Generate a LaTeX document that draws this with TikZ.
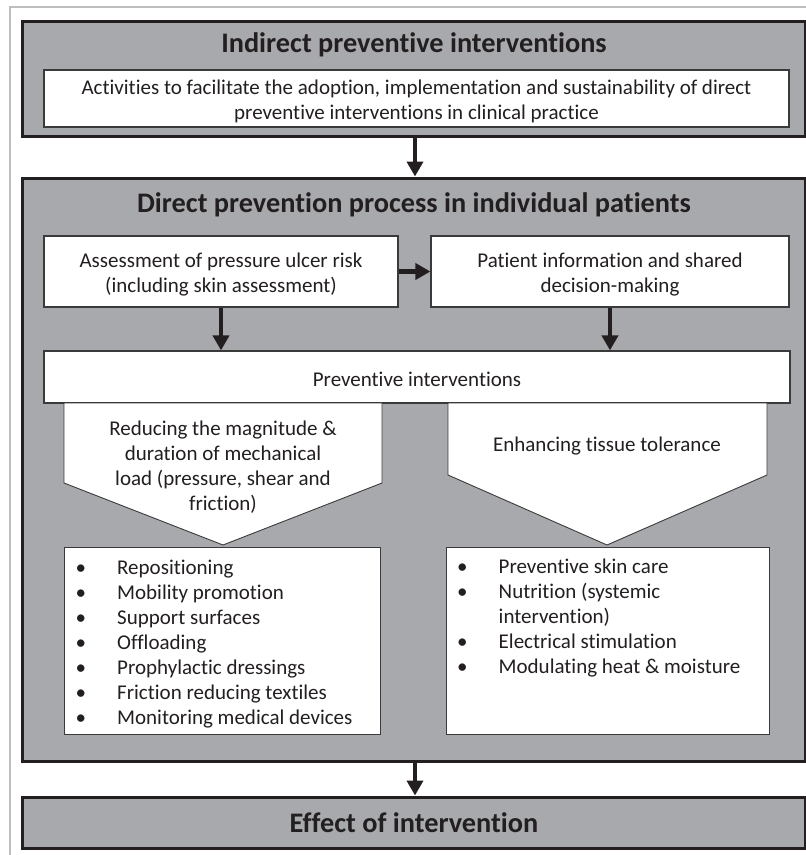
\documentclass[tikz,border=0pt]{standalone}
\usepackage{fontspec}
\setmainfont{Carlito}[Ligatures=CommonOff]
\usetikzlibrary{arrows.meta}
\definecolor{panelgray}{HTML}{A7A9AC}
\definecolor{frameblack}{HTML}{231F20}
\definecolor{edgegray}{HTML}{3A3A3A}
\definecolor{outerline}{HTML}{BEBEBE}
\tikzset{
  graybox/.style={draw=frameblack, line width=3pt, fill=panelgray, inner sep=0pt},
  whitebox/.style={draw=edgegray, line width=1.2pt, fill=white, inner sep=0pt},
  listbox/.style={draw=edgegray, line width=0.9pt, fill=white, inner sep=0pt},
  pent/.style={draw=edgegray, line width=0.9pt, fill=white},
  titletext/.style={font=\fontsize{28.3}{32}\selectfont\bfseries, text=frameblack, inner sep=0pt},
  bodytext/.style={font=\fontsize{21}{25}\selectfont, text=frameblack, align=center, inner sep=0pt},
  arr/.style={-{Triangle[length=15pt,width=16pt]}, line width=4.3pt, draw=frameblack},
}
\newcommand{\bul}{\textbullet}
\begin{document}
\begin{tikzpicture}[x=1pt,y=-1pt]
\useasboundingbox (0,0) rectangle (806,855);
% outer thin frame
\draw[outerline, line width=2pt] (10,855) -- (10,7) -- (806,7);

% top panel
\node[graybox, minimum width=782.5pt, minimum height=115pt] (top) at (413.75,78.5) {};
\node[titletext] (t1) at (414,45) {Indirect preventive interventions};
\node[whitebox, minimum width=745pt, minimum height=57pt] (act) at (416.5,98.5) {};
\node[bodytext] (acttext) at (416.5,101.5) {Activities to facilitate the adoption, implementation and sustainability of direct\\preventive interventions in clinical practice};

% direct panel
\node[graybox, minimum width=782.5pt, minimum height=583pt] (direct) at (413.75,469.5) {};
\node[titletext] (t2) at (414,204.5) {Direct prevention process in individual patients};

\node[whitebox, minimum width=354pt, minimum height=71pt] (assess) at (221,271.5) {};
\node[bodytext] (assesstext) at (221,275) {Assessment of pressure ulcer risk\\(including skin assessment)};
\node[whitebox, minimum width=358pt, minimum height=71pt] (patient) at (610,271.5) {};
\node[bodytext] (patienttext) at (610,275) {Patient information and shared\\decision-making};

\node[whitebox, minimum width=746pt, minimum height=52pt] (prev) at (417,377) {};
\node[bodytext] (prevtext) at (417,379) {Preventive interventions};

% pentagons
\draw[pent] (64,403) -- (382,403) -- (382,483) -- (223,545) -- (64,483) -- cycle;
\node[bodytext] (lpent) at (223,467) {Reducing the magnitude \&\\duration of mechanical\\load (pressure, shear and\\friction)};
\draw[pent] (448,403) -- (767,403) -- (767,475) -- (607,545) -- (448,475) -- cycle;
\node[bodytext] (rpent) at (607,446) {Enhancing tissue tolerance};

% list boxes
\node[listbox, minimum width=316pt, minimum height=187pt] (llist) at (222,640.5) {};
\node[listbox, minimum width=323pt, minimum height=187pt] (rlist) at (607.5,640.5) {};
\node[anchor=north west, inner sep=0pt, font=\fontsize{21}{25}\selectfont, text=frameblack] (litems) at (75.5,556.5) {%
\begin{tabular}{@{}p{41.5pt}@{}l@{}}
\bul & Repositioning\\
\bul & Mobility promotion\\
\bul & Support surfaces\\
\bul & Offloading\\
\bul & Prophylactic dressings\\
\bul & Friction reducing textiles\\
\bul & Monitoring medical devices
\end{tabular}};
\node[anchor=north west, inner sep=0pt, font=\fontsize{21}{25}\selectfont, text=frameblack] (ritems) at (457,555.5) {%
\begin{tabular}{@{}p{41.5pt}@{}l@{}}
\bul & Preventive skin care\\
\bul & Nutrition (systemic\\
     & intervention)\\
\bul & Electrical stimulation\\
\bul & Modulating heat \& moisture
\end{tabular}};

% effect panel
\node[graybox, minimum width=782.5pt, minimum height=51pt] (effect) at (413.75,822.5) {};
\node[titletext] (t3) at (414,823) {Effect of intervention};

% arrows
\draw[arr] ([xshift=1.25pt]top.south) -- ([xshift=1.25pt]direct.north);
\draw[arr] (assess.east) -- (patient.west);
\draw[arr] (assess.south) -- (assess.south |- prev.north);
\draw[arr] (patient.south) -- (patient.south |- prev.north);
\draw[arr] ([xshift=1.25pt]direct.south) -- ([xshift=1.25pt]effect.north);
\end{tikzpicture}
\end{document}
